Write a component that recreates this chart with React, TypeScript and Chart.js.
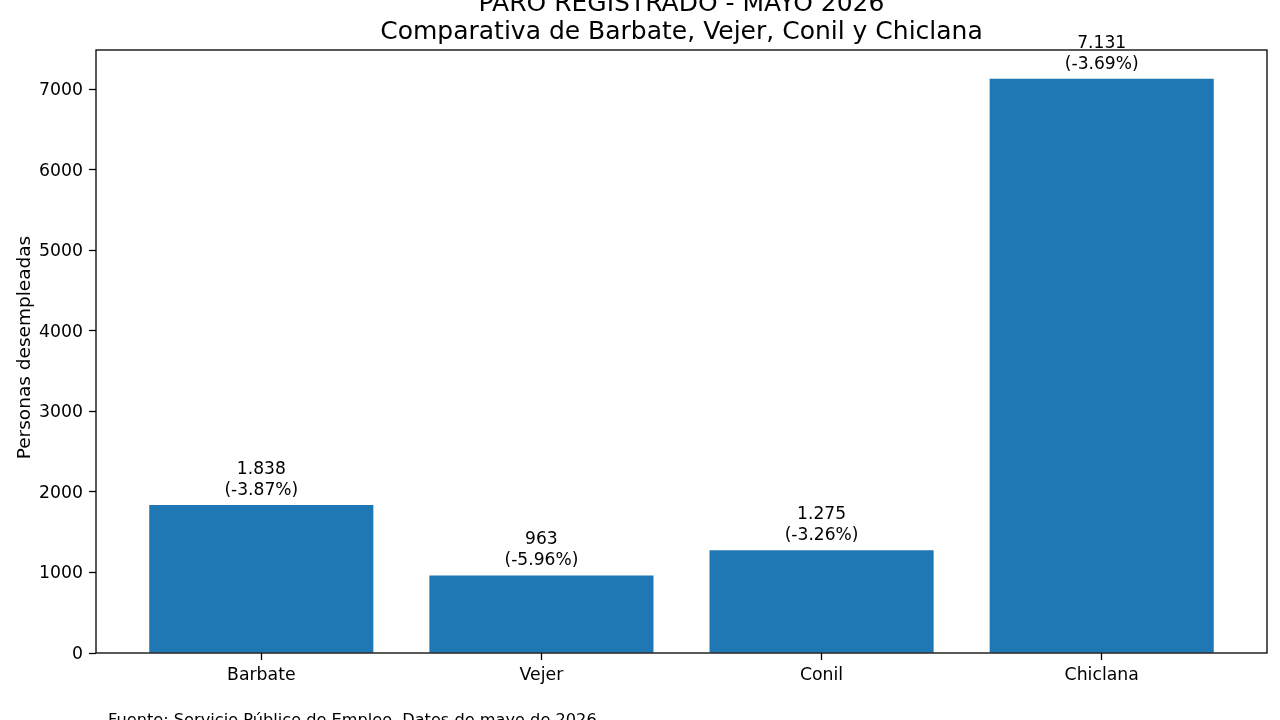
import React, { useEffect, useRef } from "react";
import { Chart, registerables } from "chart.js";

Chart.register(...registerables);

// Registered unemployment, May 2026
const municipios = ["Barbate", "Vejer", "Conil", "Chiclana"];
const parados = [1838, 963, 1275, 7131];
const variacion = [-3.87, -5.96, -3.26, -3.69];
const yTicks = [0, 1000, 2000, 3000, 4000, 5000, 6000, 7000];

const titulo1 = "PARO REGISTRADO - MAYO 2026";
const titulo2 = "Comparativa de Barbate, Vejer, Conil y Chiclana";
const ejeY = "Personas desempleadas";
const fuente = "Fuente: Servicio Público de Empleo. Datos de mayo de 2026";

const FONT = "'DejaVu Sans', sans-serif";
const BAR_COLOR = "#1f77b4";
const TICK_SIZE = 17.3;

const formatMiles = (n: number) =>
  String(n).replace(/\B(?=(\d{3})+(?!\d))/g, ".");

const decorations = {
  id: "decorations",
  afterDatasetsDraw(chart: any) {
    const { ctx, chartArea } = chart;
    const { left, right, top, bottom } = chartArea;
    ctx.save();
    // axes frame
    ctx.strokeStyle = "#000";
    ctx.lineWidth = 1.3;
    ctx.strokeRect(left, top, right - left, bottom - top);

    ctx.fillStyle = "#000";
    // value labels above each bar
    const meta = chart.getDatasetMeta(0);
    ctx.font = `17.1px ${FONT}`;
    ctx.textAlign = "center";
    ctx.textBaseline = "alphabetic";
    meta.data.forEach((bar: any, i: number) => {
      const v = parados[i];
      const pct = `(${variacion[i].toFixed(2)}%)`;
      ctx.fillText(formatMiles(v), bar.x, bar.y - 31);
      ctx.fillText(pct, bar.x, bar.y - 10);
    });

    // title
    const cx = (left + right) / 2;
    ctx.font = `25px ${FONT}`;
    ctx.fillText(titulo1, cx, 10.5);
    ctx.fillText(titulo2, cx, 38.5);

    // y axis title
    ctx.save();
    ctx.translate(29.5, (top + bottom) / 2 - 4);
    ctx.rotate(-Math.PI / 2);
    ctx.font = `18.5px ${FONT}`;
    ctx.fillText(ejeY, 0, 0);
    ctx.restore();

    // source note
    ctx.textAlign = "left";
    ctx.font = `16.2px ${FONT}`;
    ctx.fillText(fuente, 108, 724.5);
    ctx.restore();
  },
};

export default function App() {
  const ref = useRef<HTMLCanvasElement | null>(null);

  useEffect(() => {
    if (!ref.current) return;
    const maxY = Math.max(...parados) * 1.05;
    const span = municipios.length - 1 + 0.8;
    const xMin = -0.4 - span * 0.05;
    const xMax = municipios.length - 1 + 0.4 + span * 0.05;

    const axisGrid = {
      drawOnChartArea: false,
      drawTicks: true,
      offset: false,
      tickLength: 7,
      tickColor: "#000",
      tickWidth: 1.3,
    };

    const chart = new Chart(ref.current, {
      type: "bar",
      data: {
        datasets: [
          {
            data: parados.map((v, i) => ({ x: i, y: v })),
            backgroundColor: BAR_COLOR,
            barPercentage: 0.8,
            categoryPercentage: 1,
          },
        ],
      },
      options: {
        animation: false,
        responsive: false,
        layout: { padding: { left: 0, right: 13, top: 50, bottom: 0 } },
        plugins: {
          legend: { display: false },
          tooltip: { enabled: false },
        },
        scales: {
          x: {
            type: "linear",
            min: xMin,
            max: xMax,
            offset: false,
            afterBuildTicks: (scale: any) => {
              scale.ticks = municipios.map((_, i) => ({ value: i }));
            },
            afterFit: (scale: any) => {
              scale.height = 67;
            },
            ticks: {
              color: "#000",
              font: { family: FONT, size: TICK_SIZE },
              padding: 5,
              autoSkip: false,
              maxRotation: 0,
              callback: (v: any) => municipios[v as number] ?? "",
            },
            grid: axisGrid,
            border: { display: false },
          },
          y: {
            min: 0,
            max: maxY,
            afterBuildTicks: (scale: any) => {
              scale.ticks = yTicks.map((v) => ({ value: v }));
            },
            afterFit: (scale: any) => {
              scale.width = 96;
            },
            ticks: {
              color: "#000",
              font: { family: FONT, size: TICK_SIZE },
              padding: 6,
              labelOffset: 1.5,
              callback: (v: any) => String(v),
            },
            grid: axisGrid,
            border: { display: false },
          },
        },
      },
      plugins: [decorations],
    });
    return () => chart.destroy();
  }, []);

  return (
    <div
      style={{
        position: "fixed",
        left: 0,
        top: 0,
        width: 1280,
        height: 720,
        background: "#fff",
      }}
    >
      <canvas ref={ref} width={1280} height={720} style={{ width: 1280, height: 720 }} />
    </div>
  );
}
